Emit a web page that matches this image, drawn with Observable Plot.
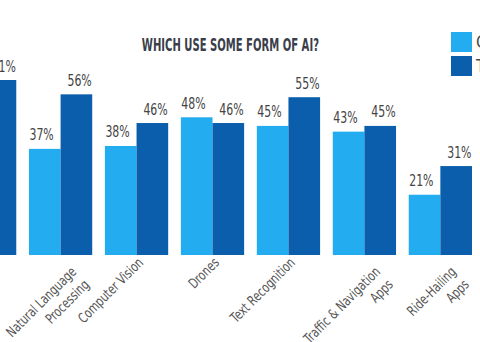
<!DOCTYPE html>
<html>
<head>
<meta charset="utf-8">
<script src="https://cdn.jsdelivr.net/npm/d3@7"></script>
<script src="https://cdn.jsdelivr.net/npm/@observablehq/plot@0.6"></script>
<style>
  html, body { margin: 0; padding: 0; background: #fff; }
  #wrap { position: relative; width: 480px; height: 342px; overflow: hidden; background: #fff; }
  #chart { position: absolute; left: -100px; top: 0; width: 592px; }
  #chart svg { max-width: none !important; }
  #title { position: absolute; left: 0; width: 460px; top: 34px; text-align: center;
    font-family: "DejaVu Sans Condensed", "DejaVu Sans", sans-serif; font-stretch: condensed;
    font-weight: bold; font-size: 18px; color: #3a3e4a; transform: scaleX(0.62); transform-origin: 231px 0; }
  .leg { position: absolute; left: 451px; display: flex; align-items: center; white-space: nowrap;
    font-family: "DejaVu Sans Condensed", "DejaVu Sans", sans-serif; font-stretch: condensed; font-size: 17px; color: #4a4a4a; }
  .leg span.sw { display: inline-block; width: 21px; height: 20px; margin-right: 4px; }
</style>
</head>
<body>
<div id="wrap">
  <div id="chart"></div>
  <div id="title">WHICH USE SOME FORM OF AI?</div>
</div>
<script>
// Data
const categories = ["First group", "Natural Language Processing", "Computer Vision", "Drones", "Text Recognition", "Traffic & Navigation Apps", "Ride-Hailing Apps"];
const tickLabels = ["", "Natural Language\nProcessing", "Computer Vision", "Drones", "Text Recognition", "Traffic & Navigation\nApps", "Ride-Hailing\nApps"];
const seriesNames = ["General", "Tech"];
const seriesA = [null, 37, 38, 48, 45, 43, 21];
const seriesB = [61, 56, 46, 46, 55, 45, 31];
const colors = ["#23acef", "#0a5eab"];

const data = [];
categories.forEach((c, i) => {
  if (seriesA[i] != null) data.push({cat: c, series: seriesNames[0], value: seriesA[i]});
  if (seriesB[i] != null) data.push({cat: c, series: seriesNames[1], value: seriesB[i]});
});
const labels = categories.map((c, i) => ({cat: c, label: tickLabels[i]}));

const font = '"DejaVu Sans Condensed", "DejaVu Sans", sans-serif';
const bandW = 31.67;

const chart = Plot.plot({
  width: 592,
  height: 342,
  marginLeft: 53,
  marginRight: 20,
  marginTop: 80,
  marginBottom: 87,
  style: {fontFamily: font, background: "transparent", maxWidth: "none", fontStretch: "condensed"},
  fx: {domain: categories, paddingInner: 0.167, paddingOuter: 0, round: false, axis: null},
  x: {domain: seriesNames, padding: 0, round: false, axis: null},
  y: {domain: [0, d3.max(seriesB)], axis: null},
  color: {domain: seriesNames, range: colors},
  marks: [
    Plot.barY(data, {fx: "cat", x: "series", y: "value", fill: "series", inset: 0}),
    Plot.text(data.filter(d => d.series === seriesNames[0]), {
      fx: "cat", x: "series", y: "value", text: d => d.value + "%",
      textAnchor: "start", dx: -bandW / 2, dy: -9, fontSize: 16, fill: "#444"
    }),
    Plot.text(data.filter(d => d.series === seriesNames[1]), {
      fx: "cat", x: "series", y: "value", text: d => d.value + "%",
      textAnchor: "end", dx: bandW / 2 - 1, dy: -9, fontSize: 16, fill: "#444"
    }),
    Plot.text(labels, {
      fx: "cat", text: "label", frameAnchor: "bottom", rotate: -45,
      textAnchor: "end", lineAnchor: "top", lineHeight: 1.3,
      dx: 7, dy: 8, fontSize: 14, fill: "#555"
    })
  ]
});
document.getElementById("chart").appendChild(chart);

// Condense text horizontally (the reference uses a condensed typeface)
function condense(el, k) {
  let t = el.getAttribute("transform") || "";
  if (el.hasAttribute("x") || el.hasAttribute("y")) {
    const x = +el.getAttribute("x") || 0, y = +el.getAttribute("y") || 0;
    el.removeAttribute("x"); el.removeAttribute("y");
    t = `translate(${x},${y}) ` + t;
  }
  el.setAttribute("transform", (t + ` scale(${k},1)`).trim());
}
chart.querySelectorAll("text").forEach(el => {
  const tr = el.getAttribute("transform") || "";
  if (tr.includes("rotate")) condense(el, 0.82);
  else if (el.textContent.trim().endsWith("%")) condense(el, 0.76);
});

// Legend
const wrap = document.getElementById("wrap");
seriesNames.forEach((s, i) => {
  const d = document.createElement("div");
  d.className = "leg";
  d.style.top = (32 + i * 24) + "px";
  d.innerHTML = `<span class="sw" style="background:${colors[i]}"></span>${s}`;
  wrap.appendChild(d);
});
</script>
</body>
</html>
